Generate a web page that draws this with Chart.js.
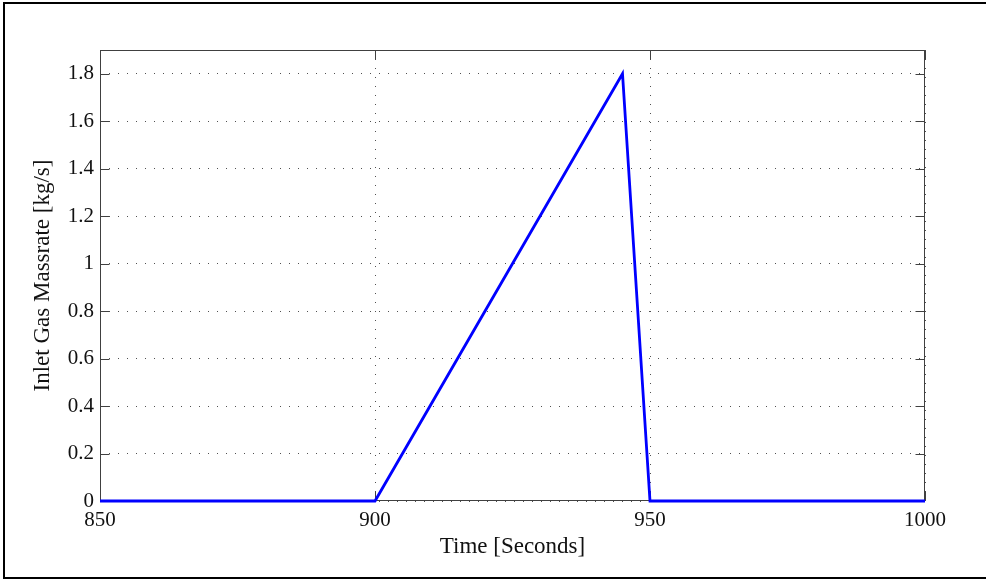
<!DOCTYPE html>
<html>
<head>
<meta charset="utf-8">
<script src="https://cdn.jsdelivr.net/npm/chart.js@4"></script>
<style>
  html, body { margin: 0; padding: 0; background: #ffffff; }
  #c { display: block; }
</style>
</head>
<body>
<canvas id="c" width="986" height="581"></canvas>
<script>
// ---- data ----
const timeSeconds = [850, 900, 945, 950, 1000];
const gasMassrate = [0, 0, 1.8, 0, 0];
const xTickValues = [850, 900, 950, 1000];
const yTickValues = [0, 0.2, 0.4, 0.6, 0.8, 1, 1.2, 1.4, 1.6, 1.8];
const xTitle = 'Time [Seconds]';
const yTitle = 'Inlet Gas Massrate [kg/s]';

const points = timeSeconds.map((t, i) => ({ x: t, y: gasMassrate[i] }));
const serif = "'Liberation Serif', 'Times New Roman', serif";

const framePlugin = {
  id: 'frame',
  beforeDraw(chart) {
    const ctx = chart.ctx;
    ctx.save();
    ctx.fillStyle = '#ffffff';
    ctx.fillRect(0, 0, chart.width, chart.height);
    ctx.fillStyle = '#000000';
    ctx.fillRect(3, 2, chart.width - 3, 2);   // top
    ctx.fillRect(3, 2, 2, 577);               // left
    ctx.fillRect(3, 577, chart.width - 3, 2); // bottom
    ctx.restore();
  },
  beforeDatasetsDraw(chart) {
    const { ctx, chartArea: a, scales } = chart;
    const L = Math.round(a.left) + 0.5, R = Math.round(a.right) - 0.5;
    const T = Math.round(a.top) + 0.5, B = Math.round(a.bottom) - 0.5;
    ctx.save();
    ctx.strokeStyle = '#404040';
    ctx.lineWidth = 1;
    ctx.setLineDash([]);
    ctx.strokeRect(L, T, R - L, B - T);
    const tl = 9;
    ctx.beginPath();
    yTickValues.forEach(v => {
      const y = Math.round(scales.y.getPixelForValue(v)) + 0.5;
      ctx.moveTo(L, y); ctx.lineTo(L + tl, y);
      ctx.moveTo(R, y); ctx.lineTo(R - tl, y);
    });
    xTickValues.forEach(v => {
      const x = Math.round(scales.x.getPixelForValue(v)) + 0.5;
      ctx.moveTo(x, B); ctx.lineTo(x, B - tl);
      ctx.moveTo(x, T); ctx.lineTo(x, T + tl);
    });
    ctx.stroke();
    ctx.restore();
  }
};

new Chart(document.getElementById('c'), {
  type: 'line',
  data: {
    datasets: [{
      data: points,
      borderColor: '#0000ff',
      borderWidth: 2.8,
      pointRadius: 0,
      fill: false,
      tension: 0,
      clip: false
    }]
  },
  options: {
    responsive: false,
    animation: false,
    devicePixelRatio: 1,
    layout: { padding: { top: 50, right: 61, left: 0, bottom: 0 } },
    plugins: { legend: { display: false }, tooltip: { enabled: false } },
    scales: {
      x: {
        type: 'linear',
        min: 850, max: 1000,
        afterBuildTicks: s => { s.ticks = xTickValues.map(v => ({ value: v })); },
        afterFit: s => { s.height = 80; },
        grid: { color: '#505050', lineWidth: 1, drawTicks: false },
        border: { display: false, dash: [1, 8] },
        ticks: {
          padding: 7,
          color: '#111111',
          font: { family: serif, size: 21 },
          maxRotation: 0,
          callback: v => String(v)
        },
        title: {
          display: true, text: xTitle, color: '#111111',
          font: { family: serif, size: 23 },
          padding: { top: 0, bottom: 20 }
        }
      },
      y: {
        type: 'linear',
        min: 0, max: 1.9,
        afterBuildTicks: s => { s.ticks = yTickValues.map(v => ({ value: v })); },
        afterFit: s => { s.width = 100; },
        grid: { color: '#505050', lineWidth: 1, drawTicks: false },
        border: { display: false, dash: [1, 8] },
        ticks: {
          padding: 6,
          color: '#111111',
          font: { family: serif, size: 21 },
          callback: v => String(Math.round(v * 10) / 10)
        },
        title: {
          display: true, text: yTitle, color: '#111111',
          font: { family: serif, size: 23 },
          padding: { top: 29, bottom: 0 }
        }
      }
    }
  },
  plugins: [framePlugin]
});
</script>
</body>
</html>
